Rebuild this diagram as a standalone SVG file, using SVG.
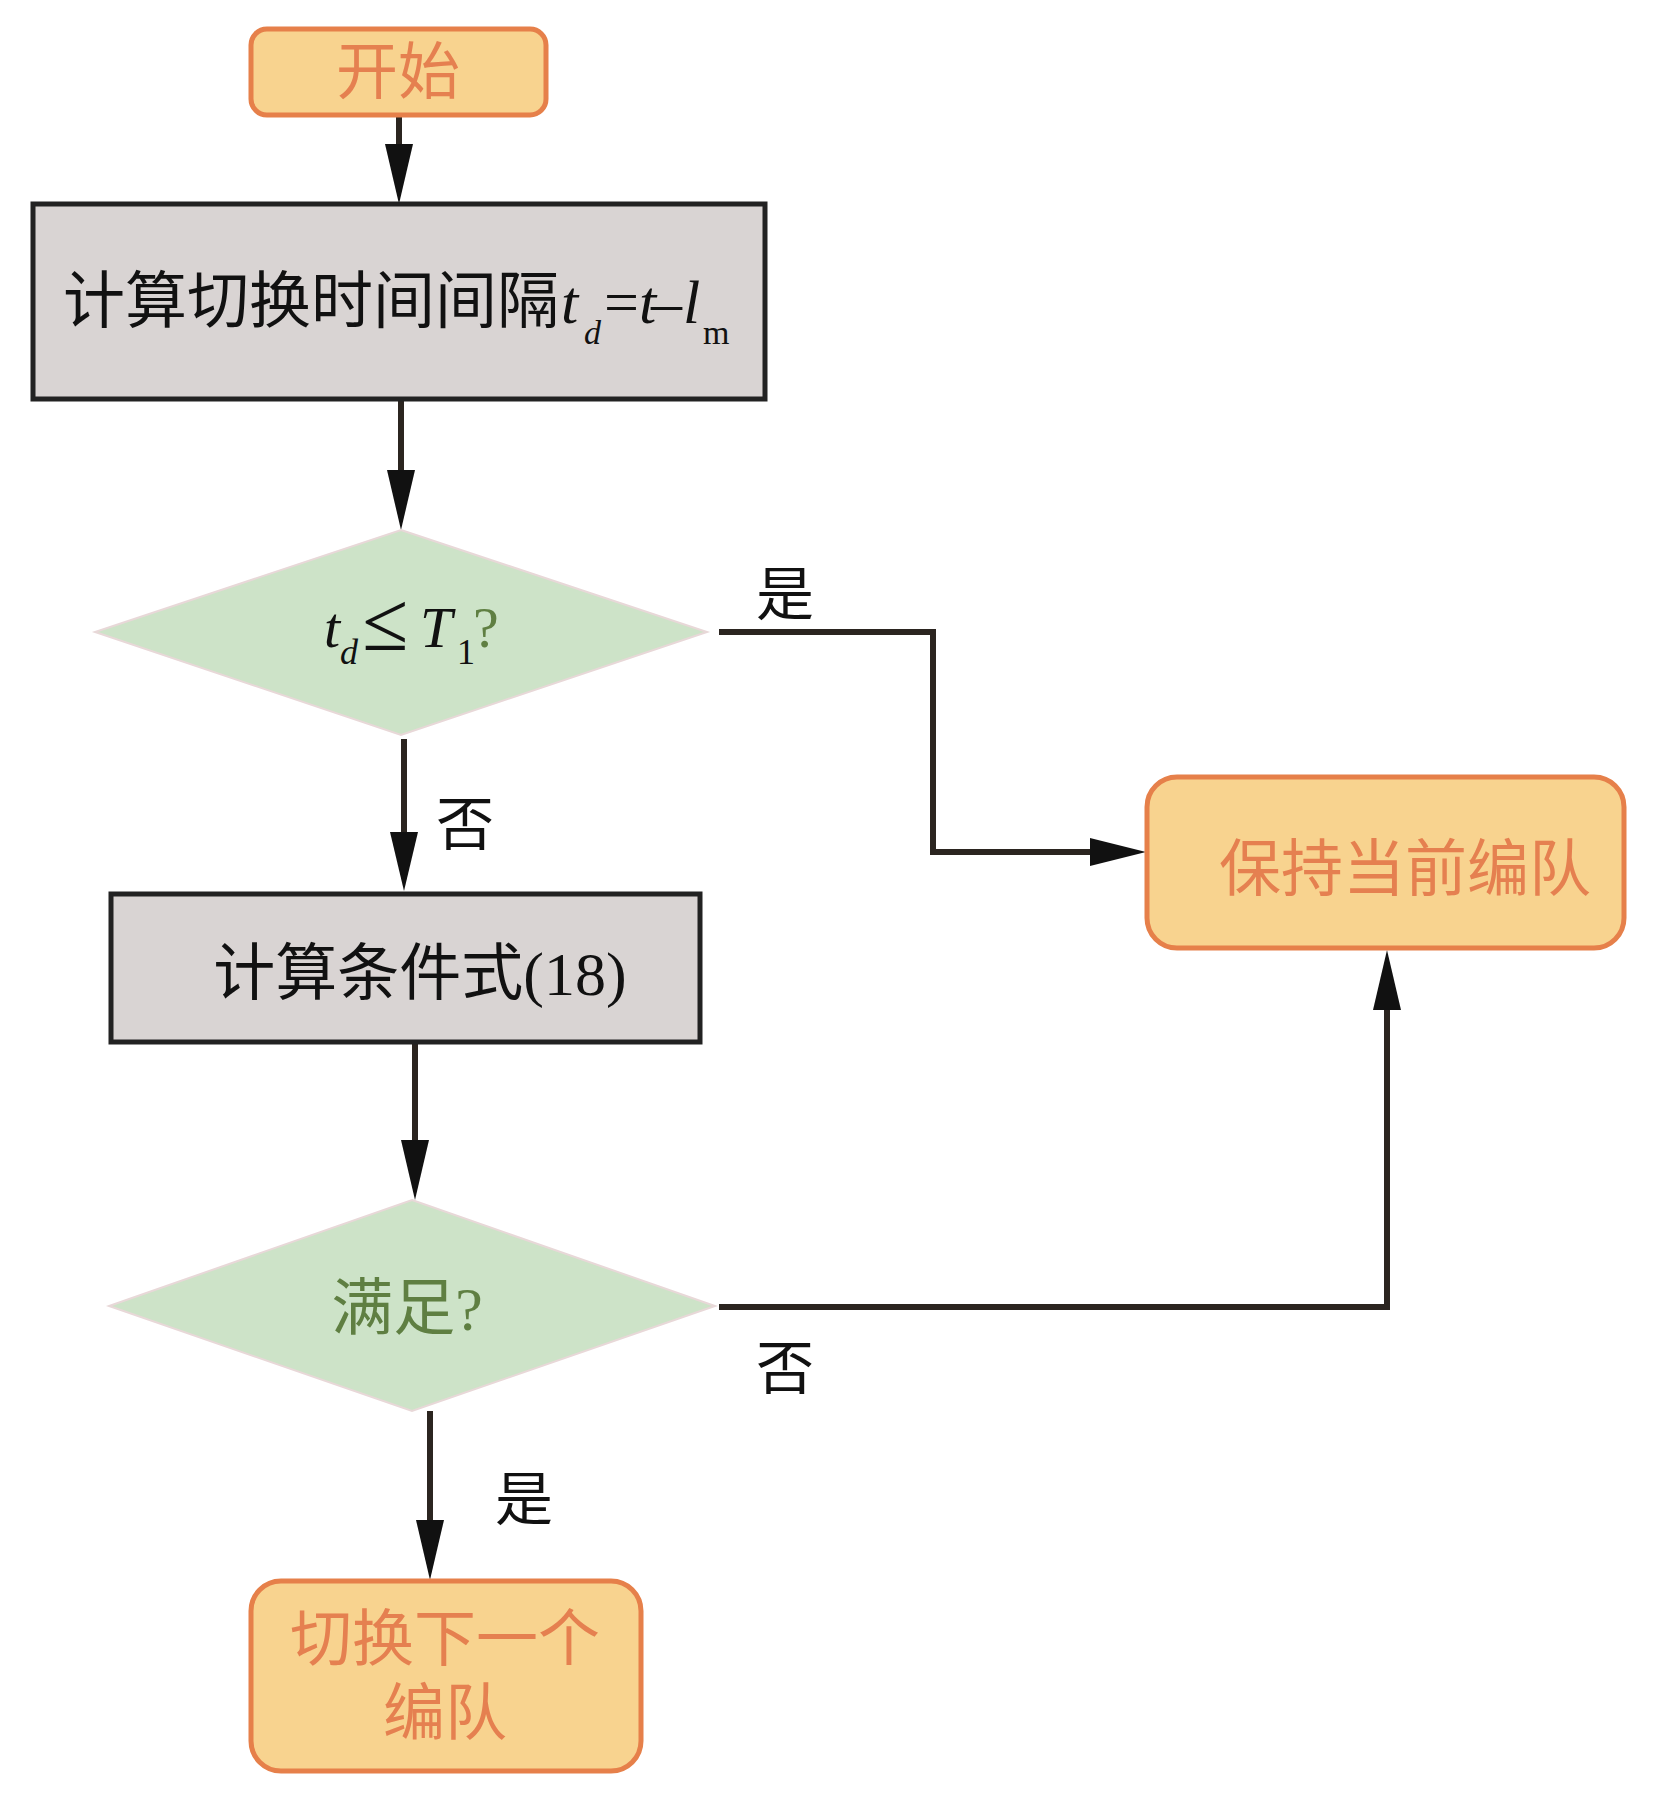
<svg xmlns="http://www.w3.org/2000/svg" width="1654" height="1796" viewBox="0 0 1654 1796">
<defs>
<style>
.term{fill:#f8d38f;stroke:#e6804a;stroke-width:5}
.proc{fill:#d9d4d3;stroke:#222;stroke-width:5}
.dec{fill:#cde3c8;stroke:#e8d8d8;stroke-width:2}
.cn{font-family:"Liberation Serif","Noto Sans CJK SC",serif;font-size:62px}
.or{fill:#e58050}
.bk{fill:#111}
.gr{fill:#5f7f42}
.mi{font-family:"Liberation Serif",serif;font-style:italic}
.mr{font-family:"Liberation Serif",serif}
.lbl{font-family:"Liberation Serif","Noto Sans CJK SC",serif;font-size:58px;fill:#111}
.ln{fill:none;stroke:#2b2520;stroke-width:6}
.ah{fill:#111}
</style>
</defs>
<rect width="1654" height="1796" fill="#fff"/>

<g id="connectors">
<line class="ln" x1="399" y1="115" x2="399" y2="144"/>
<path class="ah" d="M385,144 L413,144 L399,204 Z"/>
<line class="ln" x1="401" y1="399" x2="401" y2="470"/>
<path class="ah" d="M387,470 L415,470 L401,530 Z"/>
<polyline class="ln" points="719,632 933,632 933,852 1090,852"/>
<path class="ah" d="M1090,838 L1090,866 L1146,852 Z"/>
<line class="ln" x1="404" y1="739" x2="404" y2="832"/>
<path class="ah" d="M390,832 L418,832 L404,891 Z"/>
<line class="ln" x1="415" y1="1042" x2="415" y2="1140"/>
<path class="ah" d="M401,1140 L429,1140 L415,1200 Z"/>
<polyline class="ln" points="719,1307 1387,1307 1387,1010"/>
<path class="ah" d="M1373,1010 L1401,1010 L1387,950 Z"/>
<line class="ln" x1="430" y1="1411" x2="430" y2="1520"/>
<path class="ah" d="M416,1520 L444,1520 L430,1580 Z"/>
<text class="lbl" x="756" y="615">是</text>
<text class="lbl" x="436" y="845">否</text>
<text class="lbl" x="756" y="1389">否</text>
<text class="lbl" x="495" y="1520">是</text>
</g>

<g id="start">
<rect class="term" x="251" y="29" width="295" height="86" rx="16"/>
<text class="cn or" x="398" y="94" text-anchor="middle">开始</text>
</g>

<g id="calc-interval">
<rect class="proc" x="33" y="204" width="732" height="195"/>
<text class="cn bk" y="323"><tspan x="63">计算切换时间间隔</tspan><tspan class="mi" x="561">t</tspan><tspan class="mi" x="584" y="344" font-size="34">d</tspan><tspan class="mr" x="604" y="323">=</tspan><tspan class="mi" x="639" y="323">t</tspan><tspan class="mr" x="651" y="323">–</tspan><tspan class="mi" x="683" y="323">l</tspan><tspan class="mr" x="703" y="344" font-size="34">m</tspan></text>
</g>

<g id="decision-td">
<polygon class="dec" points="401,530 707,632 401,735 95,632"/>
<text class="mr" font-size="58" y="647"><tspan class="mi bk" x="324">t</tspan><tspan class="mi bk" x="340" y="664" font-size="36">d</tspan><tspan class="bk" x="362" y="650" font-size="84">≤</tspan><tspan class="mi bk" x="420" y="647">T</tspan><tspan class="bk" x="457" y="664" font-size="36">1</tspan><tspan class="gr" x="473" y="647">?</tspan></text>
</g>

<g id="keep">
<rect class="term" x="1147" y="777" width="477" height="171" rx="30"/>
<text class="cn or" x="1405" y="891" text-anchor="middle">保持当前编队</text>
</g>

<g id="calc-cond">
<rect class="proc" x="111" y="894" width="589" height="148"/>
<text class="cn bk" x="420" y="995" text-anchor="middle">计算条件式<tspan class="mr">(18)</tspan></text>
</g>

<g id="decision-sat">
<polygon class="dec" points="412,1200 715,1306 412,1411 109,1306"/>
<text class="cn gr" x="407" y="1330" font-size="60" text-anchor="middle">满足<tspan class="mr">?</tspan></text>
</g>

<g id="switch">
<rect class="term" x="251" y="1581" width="390" height="190" rx="30"/>
<text class="cn or" x="445" y="1661" text-anchor="middle">切换下一个</text>
<text class="cn or" x="445" y="1735" text-anchor="middle">编队</text>
</g>
</svg>
